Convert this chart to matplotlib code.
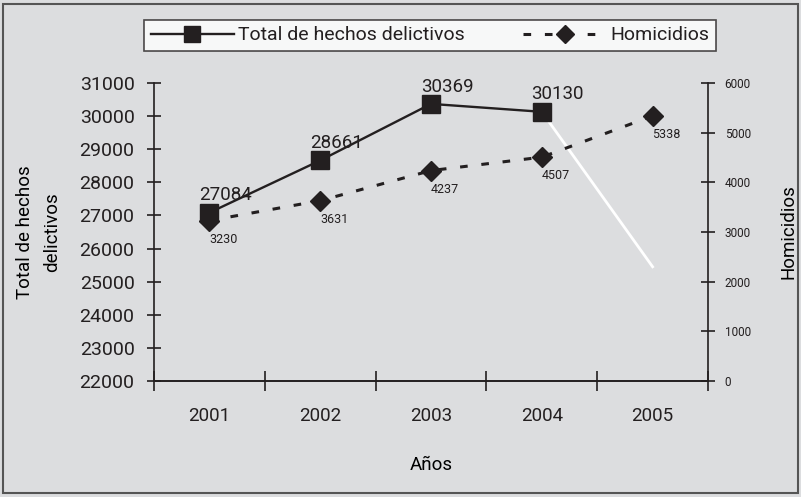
import numpy as np
import matplotlib.pyplot as plt
from matplotlib.patches import Rectangle

# data
years = ['2001', '2002', '2003', '2004', '2005']
total = [27084, 28661, 30369, 30130, 25450]   # 2005 drawn as a stray white segment
homicidios = [3230, 3631, 4237, 4507, 5338]

bg = '#dcdddf'
ink = '#231f20'
plt.rcParams['font.family'] = ['Roboto', 'DejaVu Sans']
plt.rcParams['text.color'] = ink

fig = plt.figure(figsize=(8.01, 4.97), dpi=100, facecolor=bg)
ax = fig.add_axes([0.1923, 0.2334, 0.6916, 0.5996])
ax.set_facecolor(bg)
ax2 = ax.twinx()

x = np.arange(len(years))

# Total de hechos delictivos
l1, = ax.plot(x[:4], total[:4], color=ink, lw=1.7, marker='s', ms=13.5,
              label='Total de hechos delictivos', zorder=3)
ax.plot(x[3:], total[3:], color='white', lw=2, zorder=2)
for xi, v in zip(x[:4], total[:4]):
    ax.annotate(str(v), (xi, v), xytext=(11.5, 12.5), textcoords='offset points',
                ha='center', va='center', fontsize=13.5, color=ink)

# Homicidios
l2, = ax2.plot(x, homicidios, color=ink, lw=2.2, dashes=(2.5, 4.5), marker='D',
               ms=10.5, label='Homicidios', zorder=3)
for xi, v in zip(x, homicidios):
    ax2.annotate(str(v), (xi, v), xytext=(10, -13.5), textcoords='offset points',
                 ha='center', va='center', fontsize=9, color=ink)

ax.set_xlim(-0.5, 4.5)
ax.set_ylim(22000, 31000)
ax2.set_ylim(0, 6000)
ax.set_yticks(range(22000, 31001, 1000))
ax2.set_yticks(range(0, 6001, 1000))

ax.set_xticks(np.arange(-0.5, 4.6, 1))
ax.set_xticklabels([])
ax.set_xticks(x, minor=True)
ax.set_xticklabels(years, minor=True)
ax.tick_params(axis='x', which='major', direction='inout', length=14, width=1.2, color=ink)
ax.tick_params(axis='x', which='minor', length=0, pad=19, labelsize=13.5, labelcolor=ink)
ax.tick_params(axis='y', direction='inout', length=10, width=1.2, color=ink,
               labelsize=14, pad=9, labelcolor=ink)
ax2.tick_params(axis='y', direction='inout', length=10, width=1.2, color=ink,
                labelsize=8.5, pad=7, labelcolor=ink)

for a in (ax, ax2):
    a.spines['top'].set_visible(False)
    for s in a.spines.values():
        s.set_color(ink)
        s.set_linewidth(1.2)
ax2.spines['left'].set_visible(False)
ax.spines['right'].set_visible(False)

ax.set_xlabel('Años', fontsize=13.5, labelpad=22)
ax.set_ylabel('Total de hechos\ndelictivos', fontsize=13.5, labelpad=13, linespacing=1.7)
ax2.set_ylabel('Homicidios', fontsize=13.5, labelpad=21)

leg = fig.legend(handles=[l1, l2], loc='center', bbox_to_anchor=(0.537, 0.9286),
                 ncol=2, frameon=True, fancybox=False, fontsize=14,
                 handlelength=4.3, columnspacing=3.0, handletextpad=0.2,
                 borderpad=0.35, borderaxespad=0, edgecolor=ink, markerscale=0.85)
leg.get_frame().set_linewidth(1.2)
leg.get_frame().set_facecolor('white')

# outer frame
fig.patches.append(Rectangle((0.004, 0.008), 0.992, 0.984, transform=fig.transFigure,
                             fill=False, edgecolor='#555555', lw=1.5))

fig.savefig('out.png', dpi=100, facecolor=bg)
